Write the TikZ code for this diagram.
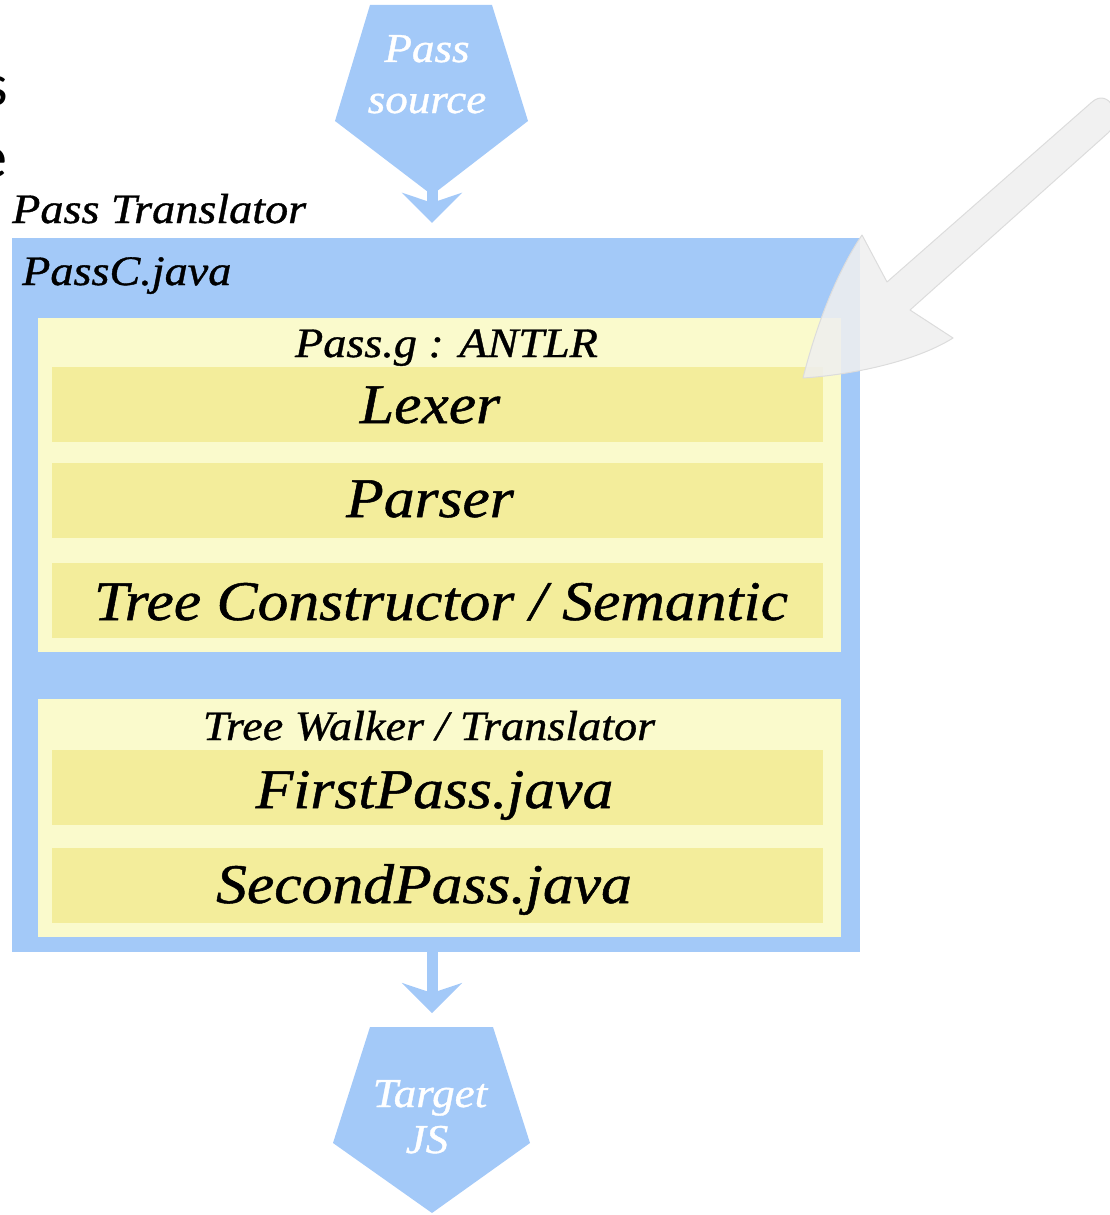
\documentclass[tikz,border=0pt]{standalone}
\usepackage{fontspec}
\setmainfont{Liberation Serif}[FakeStretch=1.1, ItalicFeatures={FakeBold=0.9}]
\newfontfamily\sidefont{Carlito}
\usetikzlibrary{arrows.meta}
\definecolor{boxblue}{RGB}{163,201,248}
\definecolor{paleyellow}{RGB}{250,250,204}
\definecolor{bandyellow}{RGB}{243,237,155}
\definecolor{pointergray}{RGB}{239,239,239}
\definecolor{pointeredge}{RGB}{220,220,220}
\begin{document}
\begin{tikzpicture}[x=1pt,y=-1pt,
  panel/.style={fill=boxblue, draw=none, inner sep=0pt, minimum width=848pt, minimum height=714pt},
  group/.style={fill=paleyellow, draw=none, inner sep=0pt, minimum width=803pt},
  band/.style={fill=bandyellow, draw=none, inner sep=0pt, minimum width=771pt, minimum height=75pt},
  biglabel/.style={font=\fontsize{56}{60}\selectfont\itshape, inner sep=0pt, anchor=base},
  midlabel/.style={font=\fontsize{42}{46}\selectfont\itshape, inner sep=0pt, anchor=base},
  ends/.style={fill=boxblue, draw=none},
  endlabel/.style={font=\fontsize{41}{45}\selectfont\itshape, text=white, inner sep=0pt, anchor=base},
  flow/.style={draw=boxblue, line width=11pt, -{Stealth[length=30pt,width=60pt,inset=10pt]}},
  sidetxt/.style={font=\sidefont\fontsize{60}{64}\selectfont, inner sep=0pt, anchor=base east}
]
\useasboundingbox (0,0) rectangle (1109,1215);

% fragments of large text at the left edge
\node[sidetxt] (cutS) at (8,105) {s};
\node[sidetxt] (cutE) at (8,177) {e};

% source and target end shapes
\fill[ends] (370,5) -- (492,5) -- (528,121) -- (432,195) -- (335,121) -- cycle;
\coordinate (srctip) at (432,188);
\node[endlabel] (srcA) at (427,62) {Pass};
\node[endlabel] (srcB) at (427,113) {source};

\fill[ends] (370,1027) -- (493,1027) -- (530,1143) -- (432,1213) -- (333,1143) -- cycle;
\coordinate (tgttop) at (432,1027);
\node[endlabel] (tgtA) at (430,1107) {Target};
\node[endlabel] (tgtB) at (427,1153) {JS};

% translator panel
\node[midlabel, anchor=base west] (title) at (12,223) {Pass Translator};
\node[panel] (box) at (436,595) {};
\node[midlabel, anchor=base west] (passc) at (22,285) {PassC.java};

% ANTLR group
\node[group, minimum height=334pt] (antlr) at (439.5,485) {};
\node[midlabel] (antlrT) at (446.5,357) {Pass.g : ANTLR};
\node[band] (lexer) at (437.5,404.5) {};
\node[biglabel] (lexerT) at (430,423) {Lexer};
\node[band] (parser) at (437.5,500.5) {};
\node[biglabel] (parserT) at (430,517) {Parser};
\node[band] (tree) at (437.5,600.5) {};
\node[biglabel] (treeT) at (441,620) {Tree Constructor / Semantic};

% walker group
\node[group, minimum height=238pt] (walker) at (439.5,818) {};
\node[midlabel] (walkerT) at (429,740) {Tree Walker / Translator};
\node[band] (first) at (437.5,787.5) {};
\node[biglabel] (firstT) at (434.5,808) {FirstPass.java};
\node[band] (second) at (437.5,885.5) {};
\node[biglabel] (secondT) at (424,903) {SecondPass.java};

% flow arrows
\draw[flow, shorten >=15pt] (srctip) -- (srctip |- box.north);
\draw[flow, shorten >=14pt] (box.south -| tgttop) -- (tgttop);

% grey pointer
\coordinate (pA1) at (1092,102);
\coordinate (pA2) at (887,282);
\coordinate (pW1) at (862,235);
\coordinate (pT) at (803,378);
\coordinate (pW2) at (953,338);
\coordinate (pB2) at (910,310);
\coordinate (pB1) at (1108,133);
\path[fill=pointergray, fill opacity=0.88, draw=pointeredge, line width=1pt, line join=round]
  (pA1) -- (pA2) -- (pW1)
  .. controls (835,275) and (815,330) .. (pT)
  .. controls (850,375) and (915,362) .. (pW2)
  -- (pB2) -- (pB1)
  .. controls (1125,118) and (1109,87) .. (pA1) -- cycle;
\end{tikzpicture}
\end{document}
